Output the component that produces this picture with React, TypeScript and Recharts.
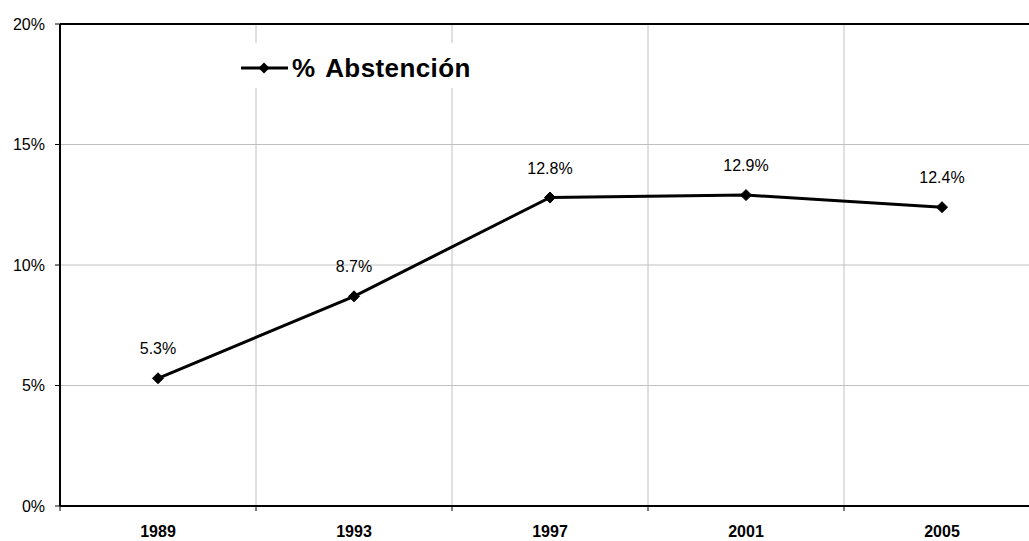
import React from 'react';
import {
  LineChart,
  Line,
  XAxis,
  YAxis,
  CartesianGrid,
  ReferenceLine,
  LabelList,
  Legend,
} from 'recharts';

const years = ['1989', '1993', '1997', '2001', '2005'];
const abstencion = [5.3, 8.7, 12.8, 12.9, 12.4];
const yTicks = [0, 5, 10, 15, 20];
const seriesName = '% Abstención';

const data = years.map((year, i) => ({ i, year, value: abstencion[i] }));
const boundaryTicks = [-0.5, 0.5, 1.5, 2.5, 3.5];
const centerTicks = years.map((_, i) => i);

const FONT = '"Liberation Sans", Arial, sans-serif';

const Diamond = (props: any) => {
  const { cx, cy, index } = props;
  if (cx == null || cy == null) return null;
  const s = 5.5;
  return (
    <polygon
      key={`d-${index}`}
      points={`${cx},${cy - s} ${cx + s},${cy} ${cx},${cy + s} ${cx - s},${cy}`}
      fill="#000"
      stroke="#000"
      strokeWidth={1}
    />
  );
};

const LegendContent = () => (
  <div
    style={{
      background: '#fff',
      width: 250,
      height: 45,
      display: 'flex',
      alignItems: 'center',
      fontFamily: FONT,
    }}
  >
    <svg width={60} height={45} style={{ display: 'block' }}>
      <line x1={9} y1={25} x2={56} y2={25} stroke="#000" strokeWidth={3} />
      <polygon points="32,19.5 37.5,25 32,30.5 26.5,25" fill="#000" />
    </svg>
    <span style={{ fontSize: 26, fontWeight: 'bold', color: '#000', marginTop: 5, letterSpacing: 0.4, wordSpacing: 3 }}>
      {seriesName}
    </span>
  </div>
);

export default function App() {
  return (
    <div
      style={{
        position: 'absolute',
        left: 0,
        top: 0,
        width: 1029,
        height: 541,
        overflow: 'hidden',
        background: '#fff',
      }}
    >
      <LineChart
        width={1029}
        height={541}
        data={data}
        margin={{ top: 24, right: -11, bottom: 0, left: 0 }}
        style={{ fontFamily: FONT }}
      >
        <CartesianGrid stroke="#c0c0c0" strokeWidth={1} />
        <XAxis
          type="number"
          dataKey="i"
          domain={[-0.5, 4.5]}
          ticks={boundaryTicks}
          tickFormatter={() => ''}
          height={10}
          tickSize={5}
          axisLine={{ stroke: '#000', strokeWidth: 2 }}
          tickLine={{ stroke: '#000', strokeWidth: 1 }}
          allowDataOverflow
        />
        <XAxis
          xAxisId="labels"
          type="number"
          dataKey="i"
          domain={[-0.5, 4.5]}
          ticks={centerTicks}
          tickFormatter={(v: number) => years[v] ?? ''}
          height={25}
          tickSize={0}
          tickMargin={10}
          axisLine={false}
          tickLine={false}
          tick={{ fill: '#000', fontSize: 16, fontWeight: 'bold', fontFamily: FONT }}
          allowDataOverflow
        />
        <YAxis
          type="number"
          domain={[0, 20]}
          ticks={yTicks}
          tickFormatter={(v: number) => `${v}%`}
          width={60}
          tickSize={5}
          tickMargin={10}
          axisLine={{ stroke: '#000', strokeWidth: 2 }}
          tickLine={{ stroke: '#000', strokeWidth: 1 }}
          tick={{ fill: '#000', fontSize: 16, fontFamily: FONT }}
        />
        <ReferenceLine y={20} stroke="#000" strokeWidth={2} />
        <Legend
          layout="horizontal"
          verticalAlign="middle"
          align="center"
          content={<LegendContent />}
          wrapperStyle={{ position: 'absolute', left: 232, top: 43, width: 250, height: 45 }}
        />
        <Line
          name={seriesName}
          dataKey="value"
          stroke="#000"
          strokeWidth={3}
          dot={Diamond}
          activeDot={false}
          isAnimationActive={false}
        >
          <LabelList
            dataKey="value"
            position="top"
            offset={24}
            formatter={(v: number) => `${v.toFixed(1)}%`}
            style={{ fill: '#000', fontSize: 16, fontFamily: FONT }}
          />
        </Line>
      </LineChart>
    </div>
  );
}
